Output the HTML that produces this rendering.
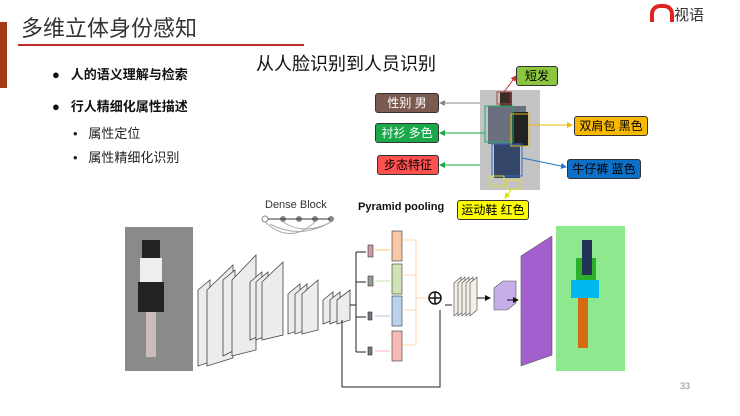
<!DOCTYPE html>
<html><head><meta charset="utf-8"><style>
body{margin:0;width:740px;height:416px;background:#fff;overflow:hidden;font-family:"Liberation Sans","Noto Sans CJK SC",sans-serif;position:relative}
.a{position:absolute;white-space:nowrap}
.lb{position:absolute;border:1px solid #333;border-radius:3px;font-size:12px;text-align:center;line-height:18px}
</style></head><body>
<div class="a" style="left:0;top:22px;width:7px;height:66px;background:#a33a14"></div>
<div class="a" style="left:21px;top:15px;font-size:22px;color:#333;line-height:28px">多维立体身份感知</div>
<div class="a" style="left:18px;top:44px;width:286px;height:2px;background:#c0282a"></div>
<div class="a" style="left:650px;top:4px;font-size:15px;color:#333"><span style="display:inline-block;width:16px;height:14px;border:4px solid #d22;border-bottom:none;border-radius:10px 10px 0 0;vertical-align:-2px"></span>视语</div>
<div class="a" style="left:52px;top:64px;font-size:13px;font-weight:bold;color:#111">●&nbsp;&nbsp;&nbsp;人的语义理解与检索</div>
<div class="a" style="left:52px;top:96px;font-size:13px;font-weight:bold;color:#111">●&nbsp;&nbsp;&nbsp;行人精细化属性描述</div>
<div class="a" style="left:73px;top:123px;font-size:13px;color:#222">•&nbsp;&nbsp;&nbsp;属性定位</div>
<div class="a" style="left:73px;top:147px;font-size:13px;color:#222">•&nbsp;&nbsp;&nbsp;属性精细化识别</div>
<div class="a" style="left:256px;top:50px;font-size:18px;color:#111">从人脸识别到人员识别</div>
<svg class="a" style="left:0;top:0" width="740" height="416">
<defs><marker id="m" markerWidth="6" markerHeight="6" refX="5" refY="3" orient="auto"><path d="M0,0L6,3L0,6z" fill="context-stroke"/></marker>
<marker id="k" markerWidth="6" markerHeight="6" refX="5" refY="3" orient="auto"><path d="M0,0L6,3L0,6z" fill="#111"/></marker></defs>
<rect x="480" y="90" width="60" height="100" fill="#c4c4c4"/>
<rect x="500" y="92" width="12" height="14" fill="#3a2e2a"/>
<rect x="488" y="106" width="38" height="38" fill="#6a7080"/>
<rect x="512" y="112" width="16" height="34" fill="#222"/>
<rect x="494" y="144" width="26" height="34" fill="#34466a"/>
<rect x="497" y="92" width="14" height="12" fill="none" stroke="#a44"/>
<rect x="485" y="106" width="28" height="36" fill="none" stroke="#2a6"/>
<rect x="511" y="114" width="18" height="32" fill="none" stroke="#db2"/>
<rect x="492" y="144" width="30" height="32" fill="none" stroke="#36c"/>
<rect x="490" y="176" width="14" height="10" fill="none" stroke="#dd3"/>
<rect x="507" y="180" width="14" height="9" fill="none" stroke="#dd3"/>
<line x1="504" y1="92" x2="516" y2="76" stroke="#c33" marker-end="url(#m)"/>
<line x1="480" y1="103" x2="440" y2="103" stroke="#888" marker-end="url(#m)"/>
<line x1="485" y1="133" x2="440" y2="133" stroke="#1a4" marker-end="url(#m)"/>
<line x1="480" y1="165" x2="440" y2="165" stroke="#1a4" marker-end="url(#m)"/>
<line x1="529" y1="125" x2="572" y2="125" stroke="#eb0" marker-end="url(#m)"/>
<line x1="522" y1="158" x2="566" y2="167" stroke="#27c" marker-end="url(#m)"/>
<line x1="511" y1="190" x2="505" y2="198" stroke="#dd0" marker-end="url(#m)"/>
<text x="265" y="208" font-size="11" fill="#333">Dense Block</text>
<g fill="#888"><circle cx="265" cy="219" r="3" fill="#fff" stroke="#888"/><circle cx="283" cy="219" r="3"/><circle cx="299" cy="219" r="3"/><circle cx="315" cy="219" r="3"/><circle cx="331" cy="219" r="3"/></g>
<path d="M268 219H330" stroke="#333"/><path d="M265 222Q290 245 315 222M270 224Q300 240 331 222M283 222Q305 236 331 222" fill="none" stroke="#aaa"/>
<text x="358" y="210" font-size="11" font-weight="bold" fill="#111">Pyramid pooling</text>
<rect x="125" y="227" width="68" height="144" fill="#8a8a8a"/>
<path d="M142 240h18v40h-18z" fill="#222"/><path d="M140 258h22v24h-22z" fill="#eee"/><path d="M138 282h26v30h-26z" fill="#222"/><path d="M146 312h10v45h-10z" fill="#cbb"/>
<g fill="#ececec" stroke="#444" stroke-width="0.8">
<path d="M198 290L210 280V362L198 366Z"/><path d="M207 290L233 265V358L207 366Z"/>
<path d="M223 280L235 270V350L223 356Z"/><path d="M232 280L256 255V350L232 356Z"/>
<path d="M250 282L262 272V335L250 340Z"/><path d="M256 282L268 272V335L256 340Z"/><path d="M262 282L283 262V335L262 340Z"/>
<path d="M288 294L300 284V330L288 334Z"/><path d="M295 294L307 284V330L295 334Z"/><path d="M302 294L318 280V330L302 334Z"/>
<path d="M323 300L333 292V320L323 324Z"/><path d="M330 300L340 292V320L330 324Z"/><path d="M337 300L350 290V320L337 324Z"/>
</g>
<g stroke="#222" fill="none"><path d="M350 305H356M356 252V352M356 252H366M356 282H366M356 317H366M356 352H366"/>
<path d="M342 320V387H440V310"/><path d="M445 305H452"/></g>
<g stroke="#333" stroke-width="0.6"><rect x="368" y="245" width="5" height="12" fill="#c9a"/><rect x="368" y="276" width="5" height="10" fill="#999"/><rect x="368" y="312" width="4" height="8" fill="#777"/><rect x="368" y="347" width="4" height="8" fill="#777"/>
<rect x="392" y="231" width="10" height="30" fill="#f8c7a5"/><rect x="392" y="264" width="10" height="30" fill="#cfe3b5"/><rect x="392" y="296" width="10" height="30" fill="#b9d3ee"/><rect x="392" y="331" width="10" height="30" fill="#f6bbb4"/></g>
<g fill="none" stroke-width="0.8"><path d="M375 250H390" stroke="#eb3"/><path d="M375 281H390" stroke="#ad9"/><path d="M375 316H390" stroke="#9bd"/><path d="M375 351H390" stroke="#f9b"/>
<path d="M402 240H416V345H402M402 275H416M402 310H416M416 298H430" stroke="#fc9"/></g>
<circle cx="435" cy="298" r="6" fill="#fff" stroke="#111" stroke-width="1.5"/><path d="M429 298H441M435 292V304" stroke="#111" stroke-width="1.5"/>
<g fill="#f4f0e8" stroke="#444" stroke-width="0.6"><path d="M454 283L461 277V310L454 316Z"/><path d="M458 283L465 277V310L458 316Z"/><path d="M462 283L469 277V310L462 316Z"/><path d="M466 283L473 277V310L466 316Z"/><path d="M470 283L477 277V310L470 316Z"/></g>
<path d="M477 298H490" stroke="#111" marker-end="url(#k)"/>
<path d="M494 288L503 281H516V303L507 310H494Z" fill="#c6aee8" stroke="#555" stroke-width="0.6"/>
<path d="M507 300H518" stroke="#111" marker-end="url(#k)"/>
<path d="M521 256L552 236V355L521 366Z" fill="#a35fce" stroke="#555" stroke-width="0.6"/>
<rect x="556" y="226" width="69" height="145" fill="#8ee88e"/>
<path d="M576 258h20v22h-20z" fill="#2bb02b"/><path d="M582 240h10v35h-10z" fill="#235"/><path d="M571 280h28v18h-28z" fill="#00b7f0"/><path d="M578 298h10v50h-10z" fill="#d46a12"/>
<text x="680" y="389" font-size="9" fill="#888">33</text>
</svg>
<div class="lb" style="left:516px;top:66px;width:40px;background:#8cc63f">短发</div>
<div class="lb" style="left:375px;top:93px;width:62px;background:#7b5b50;color:#fff">性别 男</div>
<div class="lb" style="left:375px;top:123px;width:62px;background:#1aa84b;color:#fff">衬衫 多色</div>
<div class="lb" style="left:377px;top:155px;width:60px;background:#ff5050">步态特征</div>
<div class="lb" style="left:574px;top:116px;width:72px;background:#f7b900">双肩包 黑色</div>
<div class="lb" style="left:567px;top:159px;width:72px;background:#0d6fc6">牛仔裤 蓝色</div>
<div class="lb" style="left:457px;top:200px;width:70px;background:#ffff00">运动鞋 红色</div>
</body></html>
